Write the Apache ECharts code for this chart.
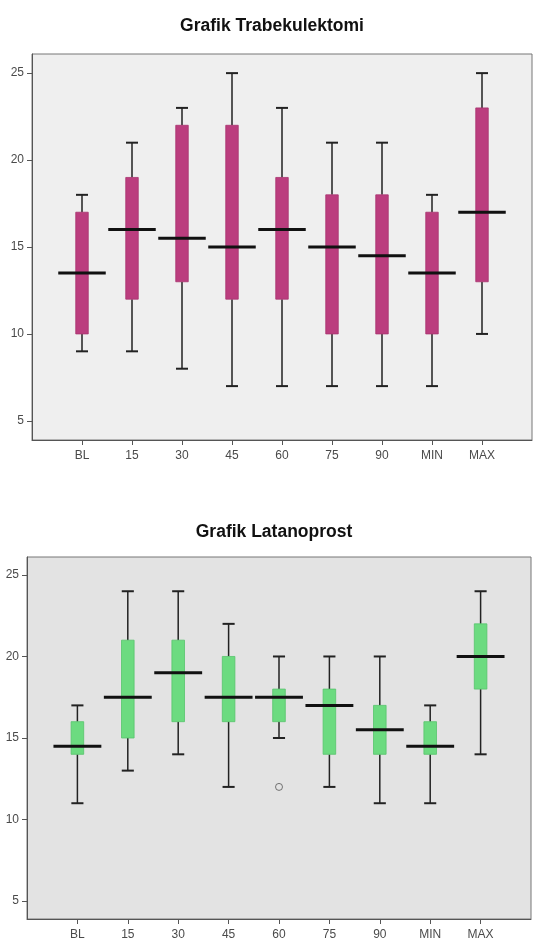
<!DOCTYPE html>
<html>
<head>
<meta charset="utf-8">
<script src="https://cdn.jsdelivr.net/npm/echarts@6/dist/echarts.min.js"></script>
<style>
html,body{margin:0;padding:0;background:#fff;}
#chart{width:533px;height:941px;}
</style>
</head>
<body>
<div id="chart"></div>
<script>
var categories = ['BL','15','30','45','60','75','90','MIN','MAX'];
var yTicks = [5,10,15,20,25];

var trabMin = [9,9,8,7,7,7,7,7,10];
var trabQ1  = [10,12,13,12,12,10,10,10,13];
var trabMed = [13.5,16,15.5,15,16,15,14.5,13.5,17];
var trabQ3  = [17,19,22,22,19,18,18,17,23];
var trabMax = [18,21,23,25,23,21,21,18,25];

var latMin = [11,13,14,12,15,12,11,11,14];
var latQ1  = [14,15,16,16,16,14,14,14,18];
var latMed = [14.5,17.5,19,17.5,17.5,17,15.5,14.5,20];
var latQ3  = [16,21,21,20,18,18,17,16,22];
var latMax = [17,24,24,22,20,20,20,17,24];
var latOutlierCat = ['60'];
var latOutlierVal = [12];

function boxData(mn,q1,md,q3,mx){
  return categories.map(function(c,i){ return [i+1, mn[i], q1[i], md[i], q3[i], mx[i]]; });
}

function makeRender(fill, stroke){
  return function(params, api){
    var x = api.value(0);
    var pMin = api.coord([x, api.value(1)]);
    var pQ1 = api.coord([x, api.value(2)]);
    var pMed = api.coord([x, api.value(3)]);
    var pQ3 = api.coord([x, api.value(4)]);
    var pMax = api.coord([x, api.value(5)]);
    var unit = api.size([1,0])[0];
    var bw = unit*0.25, mw = unit*0.95, cw = unit*0.24;
    var cx = pMed[0];
    var lineStyle = {stroke:'#222', lineWidth:1.5};
    return {
      type:'group',
      children:[
        {type:'line', shape:{x1:cx,y1:pMin[1],x2:cx,y2:pQ1[1]}, style:lineStyle},
        {type:'line', shape:{x1:cx,y1:pQ3[1],x2:cx,y2:pMax[1]}, style:lineStyle},
        {type:'line', shape:{x1:cx-cw/2,y1:pMin[1],x2:cx+cw/2,y2:pMin[1]}, style:{stroke:'#222',lineWidth:2}},
        {type:'line', shape:{x1:cx-cw/2,y1:pMax[1],x2:cx+cw/2,y2:pMax[1]}, style:{stroke:'#222',lineWidth:2}},
        {type:'rect', shape:{x:cx-bw/2,y:pQ3[1],width:bw,height:pQ1[1]-pQ3[1]}, style:{fill:fill, stroke:stroke, lineWidth:0.8}},
        {type:'line', shape:{x1:cx-mw/2,y1:pMed[1],x2:cx+mw/2,y2:pMed[1]}, style:{stroke:'#111',lineWidth:3}}
      ]
    };
  };
}

function xAxisCfg(gi){
  return {
    gridIndex: gi, type:'value', min:0, max:10,
    axisLine:{show:true, lineStyle:{color:'#555', width:1}},
    axisTick:{show:true, length:5, customValues:[1,2,3,4,5,6,7,8,9], lineStyle:{color:'#555'}},
    axisLabel:{show:true, customValues:[1,2,3,4,5,6,7,8,9], color:'#4a4a4a', fontSize:12, fontFamily:'Liberation Sans, Arial', margin:10,
      formatter:function(v){ var i=Math.round(v)-1; return categories[i]||''; }},
    splitLine:{show:false}
  };
}
function yAxisCfg(gi){
  return {
    gridIndex: gi, type:'value', min:3.9, max:26.1,
    axisLine:{show:true, lineStyle:{color:'#555', width:1}},
    axisTick:{show:true, length:5, customValues:yTicks, lineStyle:{color:'#555'}},
    axisLabel:{show:true, customValues:yTicks, color:'#4a4a4a', fontSize:12, fontFamily:'Liberation Sans, Arial', margin:8},
    splitLine:{show:false}
  };
}

var chart = echarts.init(document.getElementById('chart'), null, {renderer:'canvas'});
chart.setOption({
  animation:false,
  backgroundColor:'#ffffff',
  title:[
    {text:'Grafik Trabekulektomi', left:267, top:12, textAlign:'center',
      textStyle:{fontSize:17.5, fontWeight:'bold', color:'#111', fontFamily:'Liberation Sans, Arial'}},
    {text:'Grafik Latanoprost', left:269, top:518, textAlign:'center',
      textStyle:{fontSize:17.5, fontWeight:'bold', color:'#111', fontFamily:'Liberation Sans, Arial'}}
  ],
  grid:[
    {left:32, top:54, width:500, height:386, show:true, backgroundColor:'#efefef', borderColor:'#777', borderWidth:1},
    {left:27, top:557, width:504, height:364, show:true, backgroundColor:'#e3e3e3', borderColor:'#777', borderWidth:1}
  ],
  xAxis:[xAxisCfg(0), xAxisCfg(1)],
  yAxis:[yAxisCfg(0), yAxisCfg(1)],
  series:[
    {type:'custom', xAxisIndex:0, yAxisIndex:0, renderItem:makeRender('#bb3d7e','#a8346f'),
      encode:{x:0, y:[1,2,3,4,5]}, data:boxData(trabMin,trabQ1,trabMed,trabQ3,trabMax)},
    {type:'custom', xAxisIndex:1, yAxisIndex:1, renderItem:makeRender('#6cdb80','#57c46c'),
      encode:{x:0, y:[1,2,3,4,5]}, data:boxData(latMin,latQ1,latMed,latQ3,latMax)},
    {type:'scatter', xAxisIndex:1, yAxisIndex:1, symbol:'circle', symbolSize:7,
      itemStyle:{color:'rgba(0,0,0,0)', borderColor:'#555', borderWidth:1},
      data: latOutlierCat.map(function(c,i){ return [categories.indexOf(c)+1, latOutlierVal[i]]; })}
  ]
});
</script>
</body>
</html>
